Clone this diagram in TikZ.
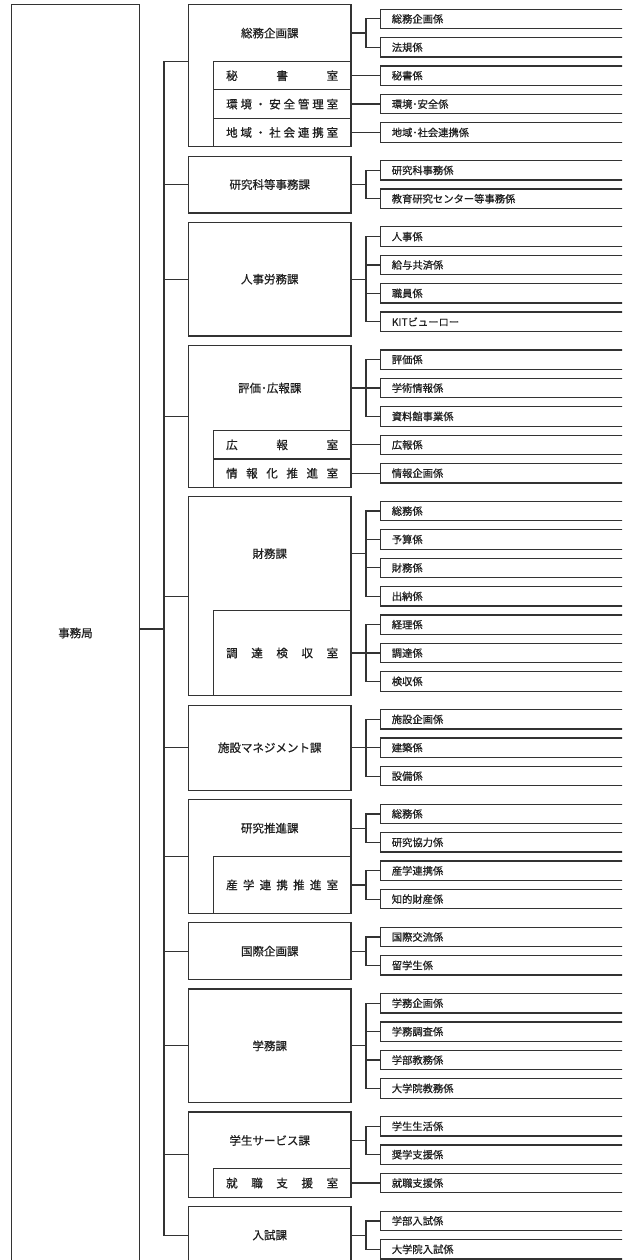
\documentclass[tikz,border=0pt]{standalone}
\usepackage{fontspec}
\setmainfont{Noto Sans CJK JP}[FakeBold=0.7]
\newcommand\kaf{\fontsize{11.5}{13}\selectfont}
\newcommand\kkf{\fontsize{10.3}{12}\selectfont}
\newcommand\spr[1]{\makebox[112pt]{#1}}
\tikzset{
  ln/.style={line width=1.2pt, draw=black!80},
  kabox/.style={ln, rectangle, inner sep=0pt, outer sep=0pt, minimum width=162.5pt, font=\kaf, text=black!88},
  shitsu/.style={ln, rectangle, inner sep=0pt, outer sep=0pt, minimum width=137.7pt, font=\kaf, text=black!88},
  kakari/.style={ln, rectangle, inner xsep=11.5pt, inner ysep=0pt, outer sep=0pt, minimum height=19.4pt, text width=240pt, align=left, anchor=west, font=\kkf, text=black!88},
  lbl/.style={font=\kaf, text=black!88, inner sep=0pt}
}
\begin{document}
\begin{tikzpicture}[x=1pt,y=-1pt]
\useasboundingbox (0,0) rectangle (622,1260);
\clip (0,0) rectangle (622,1260);
\coordinate (trunk) at (164,0);
\coordinate (bus) at (366,0);
\coordinate (jk) at (0,629);

% 事務局
\node[ln, rectangle, inner sep=0pt, outer sep=0pt, minimum width=127.6pt, minimum height=1270pt] (kyoku) at (75.5,639.5) {};
\node[lbl] (kyokut) at (75.5,633) {事務局};

% 係 boxes
\foreach \n/\y/\t in {0/18.9/総務企画係, 1/47.3/法規係, 2/75.7/秘書係, 3/104.1/環境･安全係, 4/132.5/地域･社会連携係,
  5/170.34/研究科事務係, 6/198.74/教育研究センター等事務係,
  7/236.58/人事係, 8/264.98/給与共済係, 9/293.38/職員係, 10/321.78/KITビューロー,
  11/359.62/評価係, 12/388.02/学術情報係, 13/416.42/資料館事業係, 14/444.82/広報係, 15/473.22/情報企画係,
  16/511.06/総務係, 17/539.46/予算係, 18/567.86/財務係, 19/596.26/出納係, 20/624.66/経理係, 21/653.06/調達係, 22/681.46/検収係,
  23/719.3/施設企画係, 24/747.7/建築係, 25/776.1/設備係,
  26/813.94/総務係, 27/842.34/研究協力係, 28/870.74/産学連携係, 29/899.14/知的財産係,
  30/936.98/国際交流係, 31/965.38/留学生係,
  32/1003.22/学務企画係, 33/1031.62/学務調査係, 34/1060.02/学部教務係, 35/1088.42/大学院教務係,
  36/1126.26/学生生活係, 37/1154.66/奨学支援係, 38/1183.06/就職支援係,
  39/1220.9/学部入試係, 40/1249.3/大学院入試係}
  \node[kakari] (k\n) at (380.3,\y) {\t};

% 課 boxes
\node[kabox, minimum height=142pt] (ka0) at (269.75,75.7) {};
\node[lbl] (kt0) at (269.75,33.1) {総務企画課};
\node[shitsu, minimum height=28.4pt] (sHisho) at (282.15,75.7) {\spr{秘\hfill 書\hfill 室}};
\node[shitsu, minimum height=28.4pt] (sKankyo) at (282.15,104.1) {\spr{環\hfill 境\hfill ・\hfill 安\hfill 全\hfill 管\hfill 理\hfill 室}};
\node[shitsu, minimum height=28.4pt] (sChiiki) at (282.15,132.5) {\spr{地\hfill 域\hfill ・\hfill 社\hfill 会\hfill 連\hfill 携\hfill 室}};

\node[kabox, minimum height=56.8pt] (ka1) at (269.75,184.54) {研究科等事務課};
\node[kabox, minimum height=113.6pt] (ka2) at (269.75,279.18) {人事労務課};

\node[kabox, minimum height=142pt] (ka3) at (269.75,416.42) {};
\node[lbl] (kt3) at (269.75,388.02) {評価･広報課};
\node[shitsu, minimum height=28.4pt] (sKoho) at (282.15,444.82) {\spr{広\hfill 報\hfill 室}};
\node[shitsu, minimum height=28.4pt] (sJoho) at (282.15,473.22) {\spr{情\hfill 報\hfill 化\hfill 推\hfill 進\hfill 室}};

\node[kabox, minimum height=198.8pt] (ka4) at (269.75,596.26) {};
\node[lbl] (kt4) at (269.75,553.66) {財務課};
\node[shitsu, minimum height=85.2pt] (sChotatsu) at (282.15,653.06) {\spr{調\hfill 達\hfill 検\hfill 収\hfill 室}};

\node[kabox, minimum height=85.2pt] (ka5) at (269.75,747.7) {施設マネジメント課};

\node[kabox, minimum height=113.6pt] (ka6) at (269.75,856.54) {};
\node[lbl] (kt6) at (269.75,828.14) {研究推進課};
\node[shitsu, minimum height=56.8pt] (sSangaku) at (282.15,884.94) {\spr{産\hfill 学\hfill 連\hfill 携\hfill 推\hfill 進\hfill 室}};

\node[kabox, minimum height=56.8pt] (ka7) at (269.75,951.18) {国際企画課};
\node[kabox, minimum height=113.6pt] (ka8) at (269.75,1045.82) {学務課};

\node[kabox, minimum height=85.2pt] (ka9) at (269.75,1154.66) {};
\node[lbl] (kt9) at (269.75,1140.46) {学生サービス課};
\node[shitsu, minimum height=28.4pt] (sShushoku) at (282.15,1183.06) {\spr{就\hfill 職\hfill 支\hfill 援\hfill 室}};

\node[kabox, minimum height=56.8pt] (ka10) at (269.75,1235.1) {入試課};

% trunk
\draw[ln] (kyoku.east |- jk) -- (trunk |- jk);
\draw[ln] (ka0.west |- sHisho.north) -- (trunk |- sHisho.north) -- (trunk |- ka10) -- (ka10.west);
\foreach \g in {1,...,9} \draw[ln] (trunk |- ka\g) -- (ka\g.west);

% G0
\draw[ln] (ka0.east |- kt0) -- (bus |- kt0);
\draw[ln] (k0.west) -- (bus |- k0) -- (bus |- k1) -- (k1.west);
\draw[ln] (sHisho.east) -- (k2.west);
\draw[ln] (sKankyo.east) -- (k3.west);
\draw[ln] (sChiiki.east) -- (k4.west);
% G1
\draw[ln] (ka1.east) -- (bus |- ka1);
\draw[ln] (k5.west) -- (bus |- k5) -- (bus |- k6) -- (k6.west);
% G2
\draw[ln] (ka2.east) -- (bus |- ka2);
\draw[ln] (k7.west) -- (bus |- k7) -- (bus |- k10) -- (k10.west);
\draw[ln] (bus |- k8) -- (k8.west);
\draw[ln] (bus |- k9) -- (k9.west);
% G3
\draw[ln] (ka3.east |- kt3) -- (bus |- kt3);
\draw[ln] (k11.west) -- (bus |- k11) -- (bus |- k13) -- (k13.west);
\draw[ln] (bus |- k12) -- (k12.west);
\draw[ln] (sKoho.east) -- (k14.west);
\draw[ln] (sJoho.east) -- (k15.west);
% G4
\draw[ln] (ka4.east |- kt4) -- (bus |- kt4);
\draw[ln] (k16.west) -- (bus |- k16) -- (bus |- k19) -- (k19.west);
\draw[ln] (bus |- k17) -- (k17.west);
\draw[ln] (bus |- k18) -- (k18.west);
\draw[ln] (sChotatsu.east) -- (bus |- sChotatsu);
\draw[ln] (k20.west) -- (bus |- k20) -- (bus |- k22) -- (k22.west);
\draw[ln] (bus |- k21) -- (k21.west);
% G5
\draw[ln] (ka5.east) -- (bus |- ka5);
\draw[ln] (k23.west) -- (bus |- k23) -- (bus |- k25) -- (k25.west);
\draw[ln] (bus |- k24) -- (k24.west);
% G6
\draw[ln] (ka6.east |- kt6) -- (bus |- kt6);
\draw[ln] (k26.west) -- (bus |- k26) -- (bus |- k27) -- (k27.west);
\draw[ln] (sSangaku.east) -- (bus |- sSangaku);
\draw[ln] (k28.west) -- (bus |- k28) -- (bus |- k29) -- (k29.west);
% G7
\draw[ln] (ka7.east) -- (bus |- ka7);
\draw[ln] (k30.west) -- (bus |- k30) -- (bus |- k31) -- (k31.west);
% G8
\draw[ln] (ka8.east) -- (bus |- ka8);
\draw[ln] (k32.west) -- (bus |- k32) -- (bus |- k35) -- (k35.west);
\draw[ln] (bus |- k33) -- (k33.west);
\draw[ln] (bus |- k34) -- (k34.west);
% G9
\draw[ln] (ka9.east |- kt9) -- (bus |- kt9);
\draw[ln] (k36.west) -- (bus |- k36) -- (bus |- k37) -- (k37.west);
\draw[ln] (sShushoku.east) -- (k38.west);
% G10
\draw[ln] (ka10.east) -- (bus |- ka10);
\draw[ln] (k39.west) -- (bus |- k39) -- (bus |- k40) -- (k40.west);
\end{tikzpicture}
\end{document}
